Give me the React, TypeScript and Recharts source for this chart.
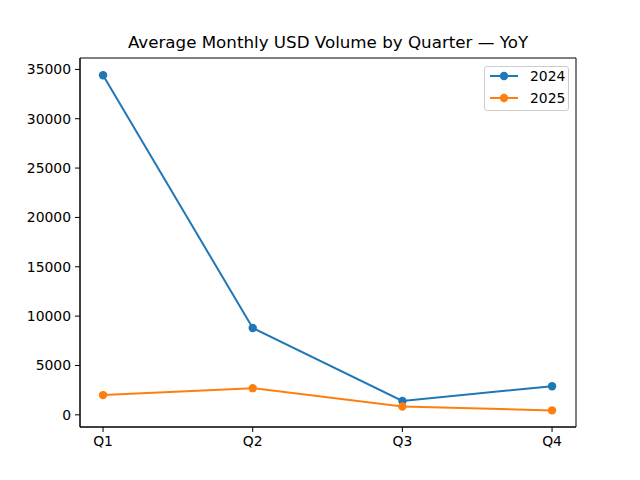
import { LineChart, Line, XAxis, YAxis, ReferenceArea } from "recharts";

const quarters = ["Q1", "Q2", "Q3", "Q4"];
const vol2024 = [34400, 8800, 1400, 2900];
const vol2025 = [2000, 2700, 850, 450];
const yTicks = [0, 5000, 10000, 15000, 20000, 25000, 30000, 35000];

const BLUE = "#1f77b4";
const ORANGE = "#ff7f0e";
const FONT = "DejaVu Sans, sans-serif";
const Y_DOMAIN: [number, number] = [-1234, 36153];
const X_DOMAIN: [number, number] = [-0.154, 3.16];

const data = quarters.map((q, i) => ({ idx: i, q, y2024: vol2024[i], y2025: vol2025[i] }));

const legendItems = [
    { label: "2024", color: BLUE },
    { label: "2025", color: ORANGE },
];

function LegendBox() {
    return (
        <div style={{
            position: "absolute", left: 484, top: 66, width: 83, height: 43,
            border: "1px solid #cccccc", borderRadius: 3, background: "rgba(255,255,255,0.8)",
            fontFamily: FONT, fontSize: 13.9, color: "#000",
        }}>
            {legendItems.map((it, i) => (
                <div key={it.label} style={{ position: "absolute", left: 0, top: i * 22, height: 18, width: 83 }}>
                    <svg width={40} height={18} style={{ position: "absolute", left: 4, top: 0 }}>
                        <line x1={1} y1={9} x2={29} y2={9} stroke={it.color} strokeWidth={2} />
                        <circle cx={15} cy={9} r={4.2} fill={it.color} />
                    </svg>
                    <span style={{ position: "absolute", left: 45, top: 0, lineHeight: "18px" }}>{it.label}</span>
                </div>
            ))}
        </div>
    );
}

export default function App() {
    return (
        <div style={{ position: "absolute", left: 0, top: 0, width: 640, height: 480, background: "#fff" }}>
            <div style={{
                position: "absolute", left: 80, width: 496, top: 32, textAlign: "center",
                fontFamily: FONT, fontSize: 16.7, color: "#000",
            }}>
                Average Monthly USD Volume by Quarter — YoY
            </div>
            <LineChart width={640} height={480} data={data}
                       margin={{ top: 58, right: 64, left: 0, bottom: 0 }}>
                <XAxis dataKey="idx" type="number" domain={X_DOMAIN} ticks={[0, 1, 2, 3]}
                       allowDataOverflow height={53} interval={0}
                       tickFormatter={(v: number) => quarters[v]}
                       tickSize={5} tickMargin={4} tickLine={{ stroke: "#000" }}
                       axisLine={{ stroke: "#000" }}
                       tick={{ fill: "#000", fontSize: 13.9, fontFamily: FONT }} />
                <YAxis width={80} type="number" domain={Y_DOMAIN} ticks={yTicks}
                       allowDataOverflow tickSize={5} tickMargin={4} interval={0}
                       tickLine={{ stroke: "#000" }} axisLine={{ stroke: "#000" }}
                       tick={{ fill: "#000", fontSize: 13.9, fontFamily: FONT }} />
                <ReferenceArea x1={X_DOMAIN[0]} x2={X_DOMAIN[1]} y1={Y_DOMAIN[0]} y2={Y_DOMAIN[1]}
                               fill="none" stroke="#000" strokeWidth={1} ifOverflow="visible" />
                <Line dataKey="y2024" stroke={BLUE} strokeWidth={2} isAnimationActive={false}
                      dot={{ r: 4.2, fill: BLUE, stroke: BLUE, strokeWidth: 0 }} activeDot={false} />
                <Line dataKey="y2025" stroke={ORANGE} strokeWidth={2} isAnimationActive={false}
                      dot={{ r: 4.2, fill: ORANGE, stroke: ORANGE, strokeWidth: 0 }} activeDot={false} />
            </LineChart>
            <LegendBox />
        </div>
    );
}
